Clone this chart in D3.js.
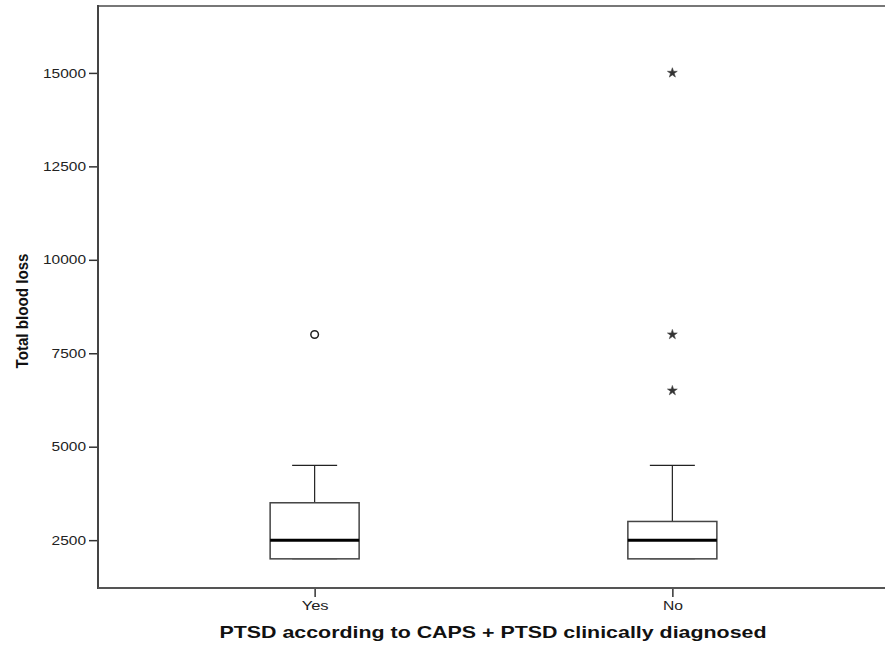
<!DOCTYPE html>
<html>
<head>
<meta charset="utf-8">
<script src="https://cdn.jsdelivr.net/npm/d3@7"></script>
<style>
  body { margin: 0; background: #fff; }
  text { font-family: "Liberation Sans", Arial, sans-serif; }
</style>
</head>
<body>
<div id="chart"></div>
<script>
const categories = ['Yes', 'No'];
const lowerWhisker = [2000, 2000];
const q1 = [2000, 2000];
const medians = [2500, 2500];
const q3 = [3500, 3000];
const upperWhisker = [4500, 4500];
// outliers (circle) and extremes (star)
const outliers = [{ cat: 'Yes', value: 8000 }];
const extremes = [
    { cat: 'No', value: 15000 },
    { cat: 'No', value: 8000 },
    { cat: 'No', value: 6500 }
];
const yTicks = [2500, 5000, 7500, 10000, 12500, 15000];

const width = 885, height = 652;
const plotLeft = 98, plotRight = 885, plotTop = 6, plotBottom = 588;
// the picture is a little wider than tall, so stretch glyphs horizontally
const charW = 8.6;

const svg = d3.select('#chart').append('svg')
    .attr('width', width)
    .attr('height', height);

const x = d3.scalePoint()
    .domain(categories)
    .range([100, 887])
    .padding(0.6);

const y = d3.scaleLinear()
    .domain([1220, 16790])
    .range([plotBottom, plotTop]);

const boxW = 89;
const capW = 45;

// frame: top line
svg.append('line')
    .attr('x1', plotLeft).attr('x2', plotRight)
    .attr('y1', plotTop).attr('y2', plotTop)
    .attr('stroke', '#777').attr('stroke-width', 2);

const yAxis = svg.append('g')
    .attr('transform', `translate(${plotLeft},0)`)
    .call(d3.axisLeft(y).tickValues(yTicks).tickSize(9).tickPadding(3).tickSizeOuter(0).tickFormat(d3.format('d')));
yAxis.select('.domain').remove();
yAxis.selectAll('line').attr('stroke', '#333').attr('stroke-width', 1.5);
yAxis.selectAll('text')
    .attr('font-size', 13)
    .attr('fill', '#222')
    .attr('textLength', d => String(d).length * charW)
    .attr('lengthAdjust', 'spacingAndGlyphs');
svg.append('line')
    .attr('x1', plotLeft).attr('x2', plotLeft)
    .attr('y1', plotTop - 1).attr('y2', plotBottom + 1)
    .attr('stroke', '#444').attr('stroke-width', 2);

const xAxis = svg.append('g')
    .attr('transform', `translate(0,${plotBottom})`)
    .call(d3.axisBottom(x).tickSize(9).tickPadding(4).tickSizeOuter(0));
xAxis.select('.domain').remove();
xAxis.selectAll('line').attr('stroke', '#333').attr('stroke-width', 1.5);
xAxis.selectAll('text')
    .attr('font-size', 13)
    .attr('fill', '#222')
    .attr('textLength', d => d === 'Yes' ? 27 : 20)
    .attr('lengthAdjust', 'spacingAndGlyphs');
svg.append('line')
    .attr('x1', plotLeft).attr('x2', plotRight)
    .attr('y1', plotBottom).attr('y2', plotBottom)
    .attr('stroke', '#555').attr('stroke-width', 2);

// boxes
const g = svg.append('g');
categories.forEach((c, i) => {
    const cx = x(c);
    g.append('line')
        .attr('x1', cx).attr('x2', cx)
        .attr('y1', y(upperWhisker[i])).attr('y2', y(q3[i]))
        .attr('stroke', '#222').attr('stroke-width', 1.2);
    g.append('line')
        .attr('x1', cx - capW / 2).attr('x2', cx + capW / 2)
        .attr('y1', y(upperWhisker[i])).attr('y2', y(upperWhisker[i]))
        .attr('stroke', '#222').attr('stroke-width', 1.2);
    g.append('line')
        .attr('x1', cx - capW / 2).attr('x2', cx + capW / 2)
        .attr('y1', y(lowerWhisker[i])).attr('y2', y(lowerWhisker[i]))
        .attr('stroke', '#888').attr('stroke-width', 1.2);
    g.append('rect')
        .attr('x', cx - boxW / 2)
        .attr('y', y(q3[i]))
        .attr('width', boxW)
        .attr('height', y(q1[i]) - y(q3[i]))
        .attr('fill', '#fff')
        .attr('stroke', '#444')
        .attr('stroke-width', 1.5);
    g.append('line')
        .attr('x1', cx - boxW / 2).attr('x2', cx + boxW / 2)
        .attr('y1', y(medians[i])).attr('y2', y(medians[i]))
        .attr('stroke', '#000').attr('stroke-width', 3);
});

g.selectAll('.outlier')
    .data(outliers)
    .enter()
    .append('circle')
    .attr('class', 'outlier')
    .attr('cx', d => x(d.cat))
    .attr('cy', d => y(d.value))
    .attr('r', 3.8)
    .attr('fill', 'none')
    .attr('stroke', '#222')
    .attr('stroke-width', 1.5);

g.selectAll('.extreme')
    .data(extremes)
    .enter()
    .append('path')
    .attr('class', 'extreme')
    .attr('transform', d => `translate(${x(d.cat)},${y(d.value)})`)
    .attr('d', d3.symbol().type(d3.symbolStar).size(30))
    .attr('fill', '#333')
    .attr('stroke', '#444')
    .attr('stroke-width', 0.6);

// titles
svg.append('text')
    .attr('transform', 'translate(28,311) rotate(-90)')
    .attr('text-anchor', 'middle')
    .attr('font-size', 17)
    .attr('font-weight', 'bold')
    .attr('fill', '#111')
    .attr('textLength', 115)
    .attr('lengthAdjust', 'spacingAndGlyphs')
    .text('Total blood loss');

svg.append('text')
    .attr('x', 493)
    .attr('y', 638)
    .attr('text-anchor', 'middle')
    .attr('font-size', 17)
    .attr('font-weight', 'bold')
    .attr('fill', '#111')
    .attr('textLength', 547)
    .attr('lengthAdjust', 'spacingAndGlyphs')
    .text('PTSD according to CAPS + PTSD clinically diagnosed');
</script>
</body>
</html>
